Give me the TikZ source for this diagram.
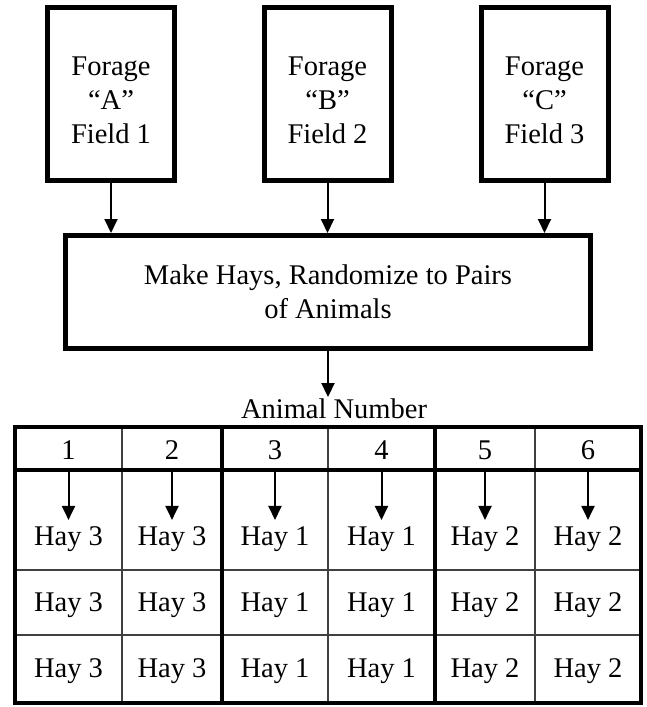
\documentclass[tikz,border=0pt]{standalone}
\usepackage{fontspec}
\setmainfont{Liberation Serif}
\usetikzlibrary{arrows.meta}
\begin{document}
\begin{tikzpicture}[x=1pt,y=-1pt,
  txt/.style={font=\fontsize{28.5}{34}\selectfont},
  fieldbox/.style={draw,line width=5pt,minimum width=127pt,minimum height=173pt,inner sep=0pt},
  fieldtext/.style={txt,align=center,inner sep=0pt},
  mainbox/.style={txt,draw,line width=5pt,minimum width=525pt,minimum height=113pt,align=center,inner sep=0pt},
  arr/.style={line width=2pt,-{Triangle[length=14pt,width=13pt]}},
  thinline/.style={line width=1.2pt,black!75},
  thickline/.style={line width=4.5pt},
  headcell/.style={txt,minimum height=43pt,inner sep=0pt},
  haycell/.style={txt,anchor=base,inner sep=6pt}]
\useasboundingbox (0,0) rectangle (646,707);
% top boxes
\node[fieldbox] (A) at (111,94) {};
\node[fieldbox] (B) at (327.5,94) {};
\node[fieldbox] (C) at (544.5,94) {};
\node[fieldtext] (tA) at ([yshift=-6pt]A.center) {Forage\\“A”\\Field 1};
\node[fieldtext] (tB) at ([yshift=-6pt]B.center) {Forage\\“B”\\Field 2};
\node[fieldtext] (tC) at ([yshift=-6pt]C.center) {Forage\\“C”\\Field 3};
\node[mainbox] (M) at (328,292) {Make Hays, Randomize to Pairs\\of Animals};
\foreach \n in {A,B,C}{\draw[arr] (\n.south) -- (\n.south |- M.north);}
\node[txt,anchor=base,inner sep=1pt] (lab) at (334,418) {Animal Number};
\draw[arr] (M.south) -- (M.south |- lab.north);
% table grid
\foreach \x in {122,328,535}{\draw[thinline] (\x,427) -- (\x,703);}
\foreach \y in {570,635}{\draw[thinline] (15,\y) -- (641,\y);}
\foreach \x in {222,435}{\draw[thickline] (\x,427) -- (\x,703);}
\draw[thickline] (15,470) -- (641,470);
\draw[thickline] (15,427) rectangle (641,703);
% cells
\foreach \i/\cx/\h in {1/68.5/3,2/172/3,3/275/1,4/381.5/1,5/485/2,6/588/2}{
  \node[headcell] (h\i) at (\cx,450.5) {\i};
  \node[haycell] (ra\i) at (\cx,545) {Hay \h};
  \node[haycell] (rb\i) at (\cx,611) {Hay \h};
  \node[haycell] (rc\i) at (\cx,677) {Hay \h};
  \draw[arr] (h\i.south) -- (ra\i.north);
}
\end{tikzpicture}
\end{document}
